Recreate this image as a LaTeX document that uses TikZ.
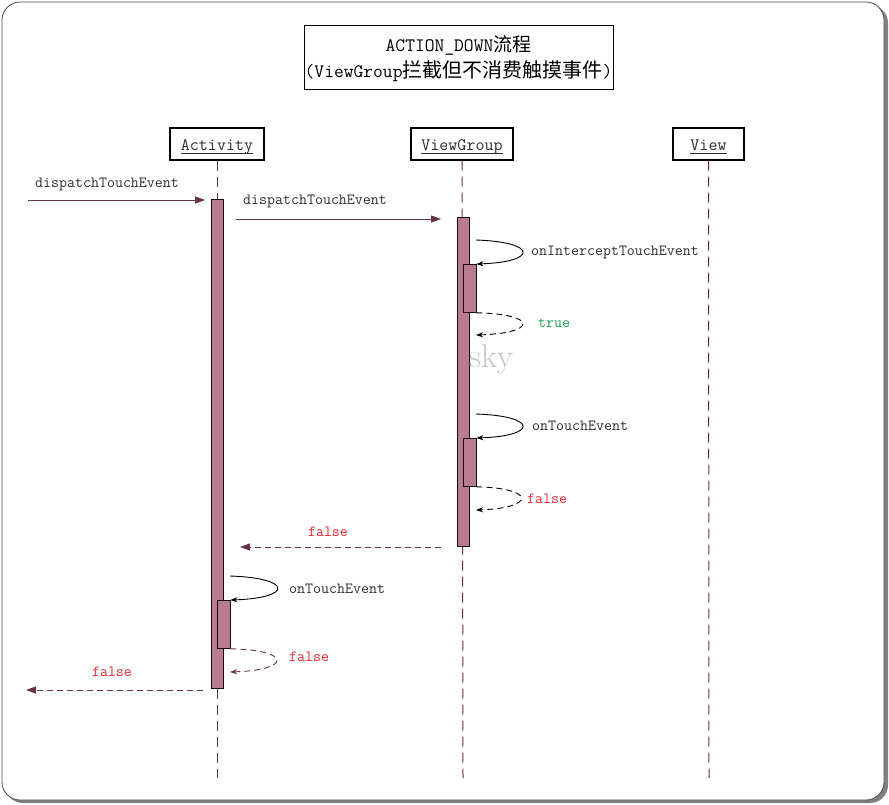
\documentclass[tikz,border=0pt]{standalone}
\usepackage{fontspec}
\newfontfamily\cjk{Noto Sans CJK SC}
\usetikzlibrary{arrows.meta}
\definecolor{lifec}{RGB}{100,50,75}
\definecolor{barc}{RGB}{185,123,145}
\definecolor{redc}{RGB}{232,38,45}
\definecolor{greenc}{RGB}{30,160,90}
\definecolor{txtc}{RGB}{45,45,45}
\newsavebox\actbox
\newcommand\actorlabel[1]{\sbox\actbox{#1}\rlap{\usebox\actbox}\raisebox{-3.5pt}{\rule{\wd\actbox}{0.9pt}}}
\begin{document}
\begin{tikzpicture}[x=1pt,y=-1pt,
  lbl/.style={font=\fontsize{15.5}{18}\ttfamily, text=txtc, inner sep=0pt},
  actor/.style={draw=black, line width=1.4pt, fill=white, minimum height=32pt, inner sep=0pt},
  actortext/.style={font=\fontsize{17.5}{20}\ttfamily, text=txtc, inner sep=0pt, anchor=base},
  life/.style={draw=lifec, line width=1pt, dash pattern=on 10pt off 6pt},
  bar/.style={draw=black!75!lifec, fill=barc, line width=0.8pt, minimum width=12pt, inner sep=0pt, anchor=north},
  msg/.style={draw=lifec, line width=0.9pt, -{Triangle[length=10pt,width=7pt]}},
  ret/.style={msg, dash pattern=on 6pt off 4pt},
  selfc/.style={draw=black, line width=0.9pt, -{Stealth[length=7pt,width=5pt]}},
  selfr/.style={selfc, dash pattern=on 6pt off 4pt},
]
\useasboundingbox (0,0) rectangle (889,804);
% frame
\fill[black!50, rounded corners=18pt] (5,5) rectangle (888,803);
\draw[rounded corners=18pt, fill=white, draw=black!70, line width=0.8pt] (2,2) rectangle (884,800);
% title
\node[draw=black, line width=1pt, minimum width=309pt, minimum height=64pt, inner sep=0pt] (title) at (458.5,57) {};
\node[font=\fontsize{19}{24}\ttfamily, inner sep=0pt] (t1) at (458.5,45) {ACTION\_DOWN{\cjk\fontsize{19}{24}\selectfont 流程}};
\node[font=\fontsize{19}{24}\ttfamily, inner sep=0pt] (t2) at (458.5,71) {(ViewGroup{\cjk\fontsize{20}{24}\selectfont 拦截但不消费触摸事件})};
% actors
\node[actor, minimum width=94pt] (act) at (217,144) {};
\node[actor, minimum width=102pt] (vg) at (462,144) {};
\node[actor, minimum width=71pt] (view) at (708.5,144) {};
\node[actortext] (actt) at (217,150) {\actorlabel{Activity}};
\node[actortext] (vgt) at (462,150) {\actorlabel{ViewGroup}};
\node[actortext] (viewt) at (708.5,150) {\actorlabel{View}};
% lifelines
\coordinate (actend) at (217,778);
\coordinate (vgend) at (463,778);
\coordinate (viewend) at (709,778);
\draw[life] (act.south) -- (actend);
\draw[life] (vg.south) -- (vgend);
\draw[life] (view.south) -- (viewend);
% activation bars
\node[bar, minimum height=489pt] (actbar) at (217,199) {};
\node[bar, minimum width=13pt, minimum height=48pt] (act2) at (223.5,600) {};
\node[bar, minimum height=329pt] (vgbar) at (463,217) {};
\node[bar, minimum width=13pt, minimum height=48pt] (vg2) at (469.5,264) {};
\node[bar, minimum width=13pt, minimum height=48pt] (vg3) at (469.5,438) {};
% watermark
\node[font=\fontsize{33}{35}\selectfont, text=black!22, inner sep=0pt, anchor=west] (sky) at (469,359) {sky};
% messages
\coordinate (m1s) at (28,200);
\coordinate (m1e) at (205,200);
\draw[msg] (m1s) -- (m1e);
\node[lbl, anchor=west] (l1) at (35,184) {dispatchTouchEvent};
\coordinate (m2s) at (236,219);
\coordinate (m2e) at (441,219);
\draw[msg] (m2s) -- (m2e);
\node[lbl, anchor=west] (l2) at (243,201) {dispatchTouchEvent};
% onInterceptTouchEvent
\coordinate (s1) at (476,240);
\draw[selfc] (s1) .. controls (538,242) and (538,262) .. (vg2.north east);
\node[lbl, anchor=west] (l3) at (531,252) {onInterceptTouchEvent};
\coordinate (r1) at (476,335);
\draw[selfr] (vg2.south east) .. controls (538,314) and (538,333) .. (r1);
\node[lbl, anchor=west, text=greenc] (l4) at (538,323) {true};
% onTouchEvent (ViewGroup)
\coordinate (s2) at (476,414);
\draw[selfc] (s2) .. controls (538,416) and (538,436) .. (vg3.north east);
\node[lbl, anchor=west] (l5) at (532,426) {onTouchEvent};
\coordinate (r2) at (476,510);
\draw[selfr] (vg3.south east) .. controls (536,488) and (536,508) .. (r2);
\node[lbl, anchor=west, text=redc] (l6) at (527,499) {false};
% return to Activity
\coordinate (m3s) at (441,547);
\coordinate (m3e) at (240,547);
\draw[ret] (m3s) -- (m3e);
\node[lbl, text=redc] (l7) at (328,532) {false};
% onTouchEvent (Activity)
\coordinate (s3) at (230,576);
\draw[selfc] (s3) .. controls (293,578) and (293,598) .. (act2.north east);
\node[lbl, anchor=west] (l8) at (289,589) {onTouchEvent};
\coordinate (r3) at (230,672);
\draw[selfr, draw=lifec] (act2.south east) .. controls (292,650) and (292,670) .. (r3);
\node[lbl, anchor=west, text=redc] (l9) at (289,657) {false};
% final return
\coordinate (m4s) at (203,690);
\coordinate (m4e) at (26,690);
\draw[ret] (m4s) -- (m4e);
\node[lbl, text=redc] (l10) at (112,672) {false};
\end{tikzpicture}
\end{document}
